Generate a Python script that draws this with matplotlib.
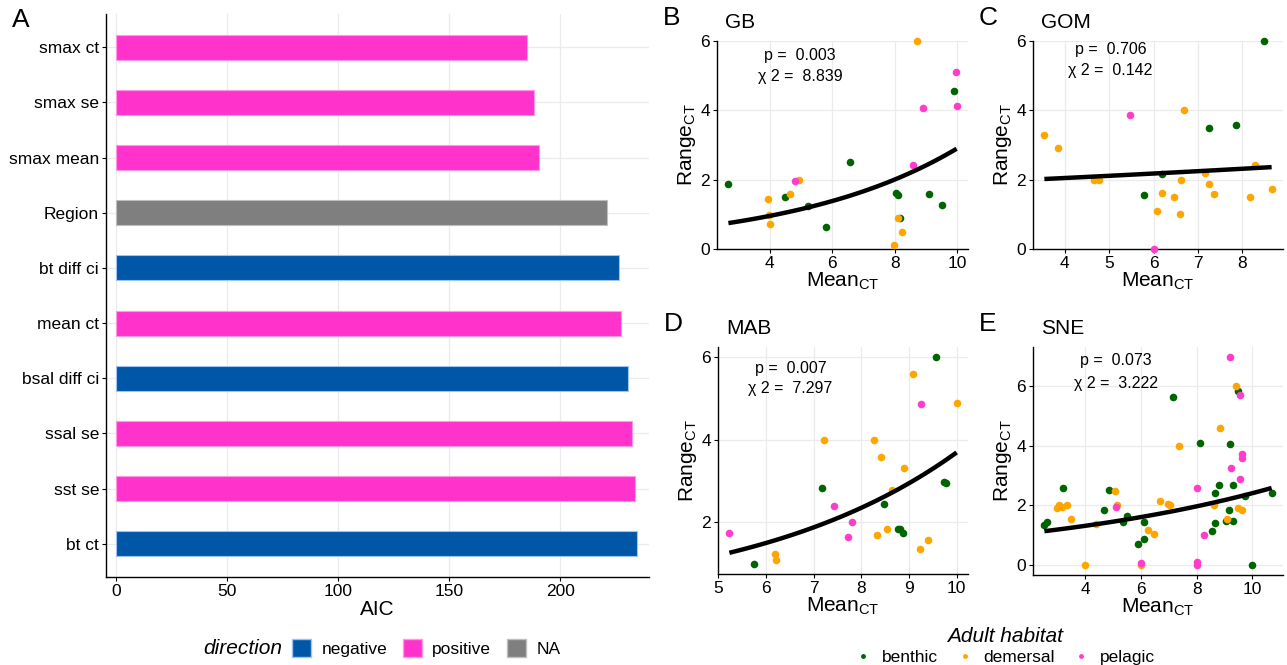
import numpy as np
import matplotlib
matplotlib.use("Agg")
import matplotlib.pyplot as plt
from matplotlib.lines import Line2D
from matplotlib.patches import Patch

plt.rcParams['font.family'] = ['Liberation Sans', 'DejaVu Sans']
plt.rcParams['mathtext.default'] = 'regular'

# ---- panel A : AIC per predictor ----
predictors = ['smax ct', 'smax se', 'smax mean', 'Region', 'bt diff ci',
              'mean ct', 'bsal diff ci', 'ssal se', 'sst se', 'bt ct']
aic = [185.2, 188.0, 190.6, 221.2, 226.4, 227.5, 230.5, 232.2, 233.5, 234.6]
direction = ['positive', 'positive', 'positive', 'NA', 'negative',
             'positive', 'negative', 'positive', 'positive', 'negative']

dir_colors = {'negative': '#0057A8', 'positive': '#FF33CC', 'NA': '#7F7F7F'}
dir_edges = {'negative': '#9DC3F0', 'positive': '#FF99E6', 'NA': '#BFBFBF'}

# ---- scatter panels (Mean CT vs Range CT) ----
gb_mean = [2.68, 4.49, 5.23, 5.81, 6.58, 8.05, 8.11, 8.17, 9.10, 9.50, 9.89,
           3.96, 4.00, 3.98, 4.64, 4.95, 8.72, 7.97, 8.12, 8.22,
           4.80, 8.60, 8.92, 9.96, 9.98]
gb_range = [1.87, 1.51, 1.23, 0.63, 2.51, 1.62, 1.55, 0.88, 1.60, 1.27, 4.57,
            1.45, 0.73, 0.97, 1.60, 2.00, 6.00, 0.12, 0.88, 0.48,
            1.97, 2.43, 4.07, 5.10, 4.12]
gb_hab = ['benthic'] * 11 + ['demersal'] * 9 + ['pelagic'] * 5

gom_mean = [8.49, 7.26, 7.85, 5.79, 6.20,
            3.54, 3.84, 4.66, 4.78, 6.68, 6.61, 6.19, 6.45, 6.08, 6.59, 7.17,
            7.25, 7.36, 8.17, 8.29, 8.66,
            5.48, 6.01]
gom_range = [6.00, 3.50, 3.58, 1.56, 2.17,
             3.30, 2.92, 1.99, 1.99, 4.00, 2.00, 1.62, 1.50, 1.10, 1.01, 2.18,
             1.87, 1.60, 1.50, 2.41, 1.73,
             3.86, 0.00]
gom_hab = ['benthic'] * 5 + ['demersal'] * 16 + ['pelagic'] * 2

mab_mean = [9.56, 7.18, 8.48, 8.77, 8.82, 8.87, 9.73, 9.78, 5.74,
            9.08, 10.00, 7.21, 8.27, 8.42, 8.89, 8.64, 8.33, 8.53, 9.24, 9.40,
            6.18, 6.21,
            5.23, 7.43, 7.81, 7.72, 9.25]
mab_range = [6.00, 2.82, 2.43, 1.82, 1.82, 1.74, 2.98, 2.96, 0.99,
             5.59, 4.88, 4.00, 4.00, 3.57, 3.31, 2.77, 1.68, 1.82, 1.34, 1.57,
             1.23, 1.07,
             1.73, 2.40, 2.00, 1.64, 4.86]
mab_hab = ['benthic'] * 9 + ['demersal'] * 13 + ['pelagic'] * 5

sne_mean = [2.54, 2.65, 3.20, 4.69, 4.87, 5.35, 5.50, 5.90, 6.10, 6.10, 7.14,
            8.11, 8.55, 8.65, 8.65, 8.81, 9.06, 9.15, 9.18, 9.32, 9.31, 9.49,
            9.74, 10.00, 10.69,
            2.99, 3.07, 3.18, 3.35, 3.49, 4.38, 4.01, 5.08, 5.14, 6.00, 6.25,
            6.46, 6.67, 6.96, 7.05, 7.38, 8.61, 8.83, 9.10, 9.42, 9.50, 9.64,
            5.10, 6.00, 9.21, 9.56, 9.25, 9.62, 9.62, 9.57, 8.01, 8.26, 8.01,
            8.01]
sne_range = [1.34, 1.43, 2.56, 1.85, 2.49, 1.44, 1.62, 0.69, 1.44, 0.86, 5.62,
             4.08, 1.13, 2.41, 1.41, 2.66, 1.47, 1.85, 4.04, 2.67, 1.47, 5.84,
             2.32, 0.00, 2.39,
             1.89, 2.00, 1.93, 1.99, 1.52, 1.35, 0.00, 2.46, 1.99, 0.00, 1.17,
             1.03, 2.13, 2.04, 2.00, 4.00, 1.99, 4.59, 1.54, 6.00, 1.90, 1.83,
             1.92, 0.06, 6.96, 5.71, 3.26, 3.71, 3.58, 2.89, 2.59, 1.01, 0.10,
             0.00]
sne_hab = ['benthic'] * 25 + ['demersal'] * 22 + ['pelagic'] * 12

# log-link fits: Range = a * exp(b * Mean)
gb_fit = (0.455, 0.1853)
gom_fit = (1.812, 0.0306)
mab_fit = (0.384, 0.2263)
sne_fit = (0.867, 0.1018)

gb_stats = ('0.003', '8.839')
gom_stats = ('0.706', '0.142')
mab_stats = ('0.007', '7.297')
sne_stats = ('0.073', '3.222')

hab_colors = {'benthic': '#006400', 'demersal': '#FFA500', 'pelagic': '#FF3DCC'}

W, H = 1287, 665
fig = plt.figure(figsize=(W / 100, H / 100), dpi=100)


def px_axes(l, t, r, b):
    return fig.add_axes([l / W, 1 - b / H, (r - l) / W, (b - t) / H])


def style(ax):
    for s in ['top', 'right']:
        ax.spines[s].set_visible(False)
    for s in ['left', 'bottom']:
        ax.spines[s].set_color('black')
        ax.spines[s].set_linewidth(1.0)
    ax.tick_params(colors='black', length=3, width=0.8, labelsize=12.5, pad=2)
    ax.grid(True, color='#EBEBEB', linewidth=0.9)
    ax.set_axisbelow(True)


def expand(vals, m=0.05):
    lo, hi = min(vals), max(vals)
    d = (hi - lo) * m
    return lo - d, hi + d


# ---- panel A ----
axA = px_axes(106, 14, 649, 577)
style(axA)
ypos = np.arange(len(predictors))[::-1]
axA.barh(ypos, aic, height=0.45,
         color=[dir_colors[d] for d in direction],
         edgecolor=[dir_edges[d] for d in direction], linewidth=0.8)
axA.set_yticks(ypos)
axA.set_yticklabels(predictors)
axA.set_ylim(-0.6, len(predictors) - 0.4)
axA.set_xlim(-4.5, 240)
axA.set_xticks([0, 50, 100, 150, 200])
axA.set_xlabel('AIC', fontsize=15, labelpad=1)
fig.text(12 / W, 1 - 20 / H, 'A', fontsize=19, va='center', ha='left')


def scatter_panel(box, mean, rng, hab, fit, stats, letter, region, txt_xy,
                  ylim=None, xticks=None, yticks=None):
    ax = px_axes(*box)
    style(ax)
    for h in ['benthic', 'demersal', 'pelagic']:
        xs = [m for m, hh in zip(mean, hab) if hh == h]
        ys = [r for r, hh in zip(rng, hab) if hh == h]
        ax.scatter(xs, ys, s=30, color=hab_colors[h], linewidths=0,
                   zorder=3, clip_on=False)
    xx = np.linspace(min(mean), max(mean), 100)
    ax.plot(xx, fit[0] * np.exp(fit[1] * xx), color='black', lw=3.2,
            solid_capstyle='butt', zorder=4)
    ax.set_xlim(*expand(mean))
    ax.set_ylim(*(ylim if ylim else expand(rng)))
    if xticks is not None:
        ax.set_xticks(xticks)
    if yticks is not None:
        ax.set_yticks(yticks)
    ax.set_xlabel('Mean$_{CT}$', fontsize=15, labelpad=0)
    ax.set_ylabel('Range$_{CT}$', fontsize=15, labelpad=2)
    ax.text(txt_xy[0], txt_xy[1], 'p =  ' + stats[0], transform=ax.transAxes,
            fontsize=11.5, ha='center', va='center')
    ax.text(txt_xy[0], txt_xy[2], '\u03c7 2 =  ' + stats[1],
            transform=ax.transAxes, fontsize=11.5, ha='center', va='center')
    l, t = box[0], box[1]
    fig.text((l - 54) / W, 1 - (t - 23) / H, letter, fontsize=19,
             va='center', ha='left')
    fig.text((l + 8) / W, 1 - (t - 19) / H, region, fontsize=15,
             va='center', ha='left')
    return ax


scatter_panel((717, 41, 968, 249), gb_mean, gb_range, gb_hab, gb_fit,
              gb_stats, 'B', 'GB', (0.33, 0.93, 0.83), ylim=(0, 6),
              xticks=[4, 6, 8, 10], yticks=[0, 2, 4, 6])
scatter_panel((1033, 41, 1283, 249), gom_mean, gom_range, gom_hab, gom_fit,
              gom_stats, 'C', 'GOM', (0.31, 0.96, 0.856), ylim=(0, 6),
              xticks=[4, 5, 6, 7, 8], yticks=[0, 2, 4, 6])
scatter_panel((718, 347, 968, 574), mab_mean, mab_range, mab_hab, mab_fit,
              mab_stats, 'D', 'MAB', (0.29, 0.907, 0.815),
              xticks=[5, 6, 7, 8, 9, 10], yticks=[2, 4, 6])
scatter_panel((1033, 347, 1283, 575), sne_mean, sne_range, sne_hab, sne_fit,
              sne_stats, 'E', 'SNE', (0.33, 0.94, 0.84),
              xticks=[4, 6, 8, 10], yticks=[0, 2, 4, 6])

# ---- legends ----
fig.text(243 / W, 1 - 648 / H, 'direction', fontsize=15, style='italic',
         ha='center', va='center')
dir_handles = [Patch(facecolor=dir_colors[k], edgecolor=dir_edges[k], label=k)
               for k in ['negative', 'positive', 'NA']]
fig.legend(handles=dir_handles, loc='center left', ncol=3, frameon=False,
           bbox_to_anchor=(292 / W, 1 - 648 / H), fontsize=12.5,
           handlelength=1.1, handleheight=1.2, handletextpad=0.6,
           columnspacing=0.9, borderaxespad=0, borderpad=0)

hab_handles = [Line2D([], [], marker='o', linestyle='none', markersize=3.5,
                      markerfacecolor=hab_colors[k], markeredgewidth=0,
                      label=k) for k in ['benthic', 'demersal', 'pelagic']]
leg = fig.legend(handles=hab_handles, loc='center', ncol=3, frameon=False,
                 bbox_to_anchor=(1005 / W, 1 - 646 / H), fontsize=12.5,
                 title='Adult habitat', handlelength=1.0, handletextpad=0.6,
                 columnspacing=1.0, borderpad=0, labelspacing=0.2,
                 title_fontproperties={'size': 15, 'style': 'italic'})

fig.savefig('out.png', dpi=100)
